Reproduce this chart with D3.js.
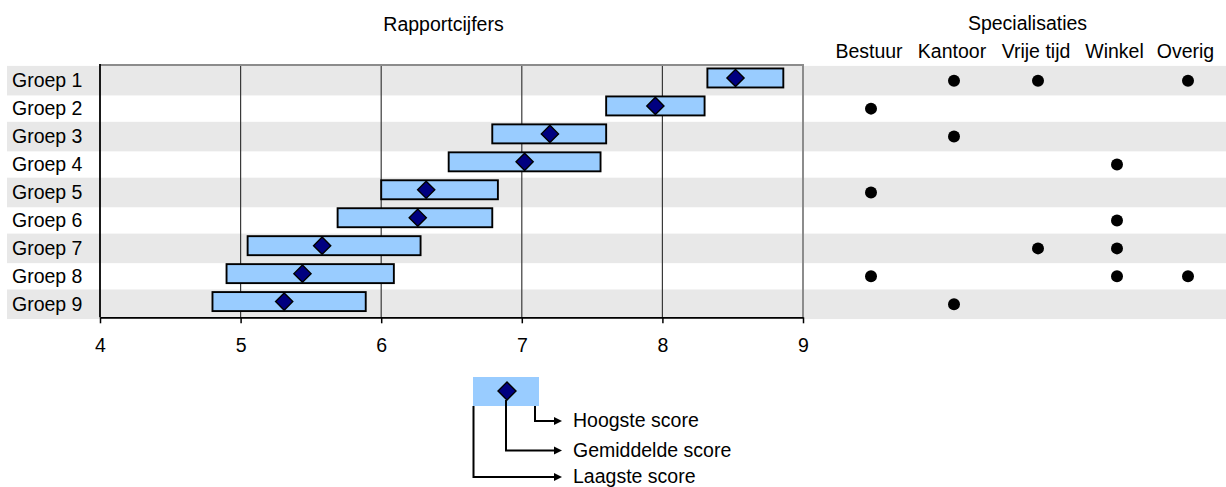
<!DOCTYPE html>
<html><head><meta charset="utf-8">
<script src="https://cdn.jsdelivr.net/npm/d3@7"></script>
<style>
html,body{margin:0;padding:0;background:#fff;}
svg text{font-family:"Liberation Sans",Arial,sans-serif;font-size:19.5px;fill:#000;}
</style></head>
<body><svg id="c" width="1226" height="487"></svg>
<script>
const groups = ["Groep 1","Groep 2","Groep 3","Groep 4","Groep 5","Groep 6","Groep 7","Groep 8","Groep 9"];
const lowScores  = [8.32, 7.60, 6.79, 6.48, 6.00, 5.69, 5.05, 4.90, 4.80];
const meanScores = [8.52, 7.95, 7.20, 7.02, 6.32, 6.26, 5.58, 5.44, 5.31];
const highScores = [8.86, 8.30, 7.60, 7.56, 6.83, 6.79, 6.28, 6.09, 5.89];
const xTicks = [4,5,6,7,8,9];
const specialisations = ["Bestuur","Kantoor","Vrije tijd","Winkel","Overig"];
const specMarks = [
  ["Kantoor","Vrije tijd","Overig"],
  ["Bestuur"],
  ["Kantoor"],
  ["Winkel"],
  ["Bestuur"],
  ["Winkel"],
  ["Vrije tijd","Winkel"],
  ["Bestuur","Winkel","Overig"],
  ["Kantoor"]
];
const chartTitle = "Rapportcijfers";
const specTitle = "Specialisaties";
const legendLabels = ["Hoogste score","Gemiddelde score","Laagste score"];

const svg = d3.select("#c");
const plotL = 100, plotR = 803, plotT = 65, plotB = 317.3;
const x = d3.scaleLinear().domain([4,9]).range([plotL, plotR]);
const y = d3.scaleBand().domain(groups).range([66.7, 66.7 + 9*27.95]).padding(0);
const bw = y.bandwidth();
const spec = d3.scaleOrdinal().domain(specialisations).range([871, 954, 1038, 1117, 1188]);
const specText = d3.scaleOrdinal().domain(specialisations).range([869, 952, 1036, 1114.5, 1185.5]);

const data = groups.map((g,i)=>({g, lo:lowScores[i], mean:meanScores[i], hi:highScores[i], marks:specMarks[i], i}));

// bands
svg.append("g").selectAll("rect").data(data.filter(d=>d.i%2===0)).join("rect")
  .attr("x",7).attr("width",1226-7)
  .attr("y",d=>y(d.g)-0.8).attr("height",bw+1.6)
  .attr("fill","#e8e8e8");

// gridlines
svg.append("g").selectAll("line").data(xTicks.slice(1,-1)).join("line")
  .attr("x1",d=>x(d)).attr("x2",d=>x(d)).attr("y1",plotT).attr("y2",plotB)
  .attr("stroke","#3a3a3a").attr("stroke-width",1.2);

// plot borders (top/right grey)
svg.append("path").attr("d",`M${plotL},${plotT}H${plotR}V${plotB}`)
  .attr("fill","none").attr("stroke","#8c8c8c").attr("stroke-width",2);

// axes
const xAxis = d3.axisBottom(x).tickValues(xTicks).tickSize(6).tickSizeOuter(0).tickFormat(d3.format("d"));
const ax = svg.append("g").attr("transform",`translate(0,${plotB})`).call(xAxis);
ax.select(".domain").attr("stroke","#000").attr("stroke-width",1.8);
ax.selectAll(".tick line").attr("stroke","#000").attr("stroke-width",1.5);
ax.selectAll(".tick text").attr("font-size",null).attr("font-family",null).attr("y",null).attr("dy",null)
  .attr("transform","translate(0,35)");
ax.attr("font-size",null).attr("font-family",null);
svg.append("line").attr("x1",plotL).attr("x2",plotL).attr("y1",plotT-1).attr("y2",plotB)
  .attr("stroke","#000").attr("stroke-width",1.8);

// group labels
svg.append("g").selectAll("text").data(data).join("text")
  .attr("x",12).attr("y",d=>y(d.g)+bw/2+6.5).text(d=>d.g);

// bars
svg.append("g").selectAll("rect").data(data).join("rect")
  .attr("x",d=>x(d.lo)).attr("width",d=>x(d.hi)-x(d.lo))
  .attr("y",d=>y(d.g)+bw/2-2.7-9.5).attr("height",19)
  .attr("fill","#99ccff").attr("stroke","#000").attr("stroke-width",1.9);

// diamonds
function diamondPath(h){return `M0,${-h}L${h},0L0,${h}L${-h},0Z`;}
svg.append("g").selectAll("path").data(data).join("path")
  .attr("d",diamondPath(8.6))
  .attr("transform",d=>`translate(${x(d.mean)},${y(d.g)+bw/2-2.7})`)
  .attr("fill","#000080").attr("stroke","#000").attr("stroke-width",1.4);

// titles
svg.append("text").attr("x",443.5).attr("y",31).attr("text-anchor","middle").text(chartTitle);
svg.append("text").attr("x",1027.5).attr("y",30).attr("text-anchor","middle").text(specTitle);
svg.append("g").selectAll("text").data(specialisations).join("text")
  .attr("x",d=>specText(d)).attr("y",58).attr("text-anchor","middle").text(d=>d);

// spec dots
const dots = data.flatMap(d=>d.marks.map(m=>({g:d.g,m})));
svg.append("g").selectAll("circle").data(dots).join("circle")
  .attr("cx",d=>spec(d.m)).attr("cy",d=>y(d.g)+bw/2).attr("r",6).attr("fill","#000");

// legend
const lg = svg.append("g");
lg.append("rect").attr("x",473).attr("y",377).attr("width",66).attr("height",29).attr("fill","#99ccff");
lg.append("path").attr("d",diamondPath(9)).attr("transform","translate(507,391)")
  .attr("fill","#000080").attr("stroke","#000").attr("stroke-width",1.4);
const legLines = [
  {label:legendLabels[0], x0:535, y0:406, y1:421},
  {label:legendLabels[1], x0:506, y0:400, y1:450.5},
  {label:legendLabels[2], x0:473.5, y0:406, y1:477}
];
const tipX = 562;
legLines.forEach(l=>{
  lg.append("path").attr("d",`M${l.x0},${l.y0}V${l.y1}H${tipX-7}`)
    .attr("fill","none").attr("stroke","#000").attr("stroke-width",2);
  lg.append("path").attr("d",`M${tipX},${l.y1}L${tipX-8},${l.y1-4}L${tipX-8},${l.y1+4}Z`).attr("fill","#000");
  lg.append("text").attr("x",573).attr("y",l.y1+6).text(l.label);
});
</script></body></html>
